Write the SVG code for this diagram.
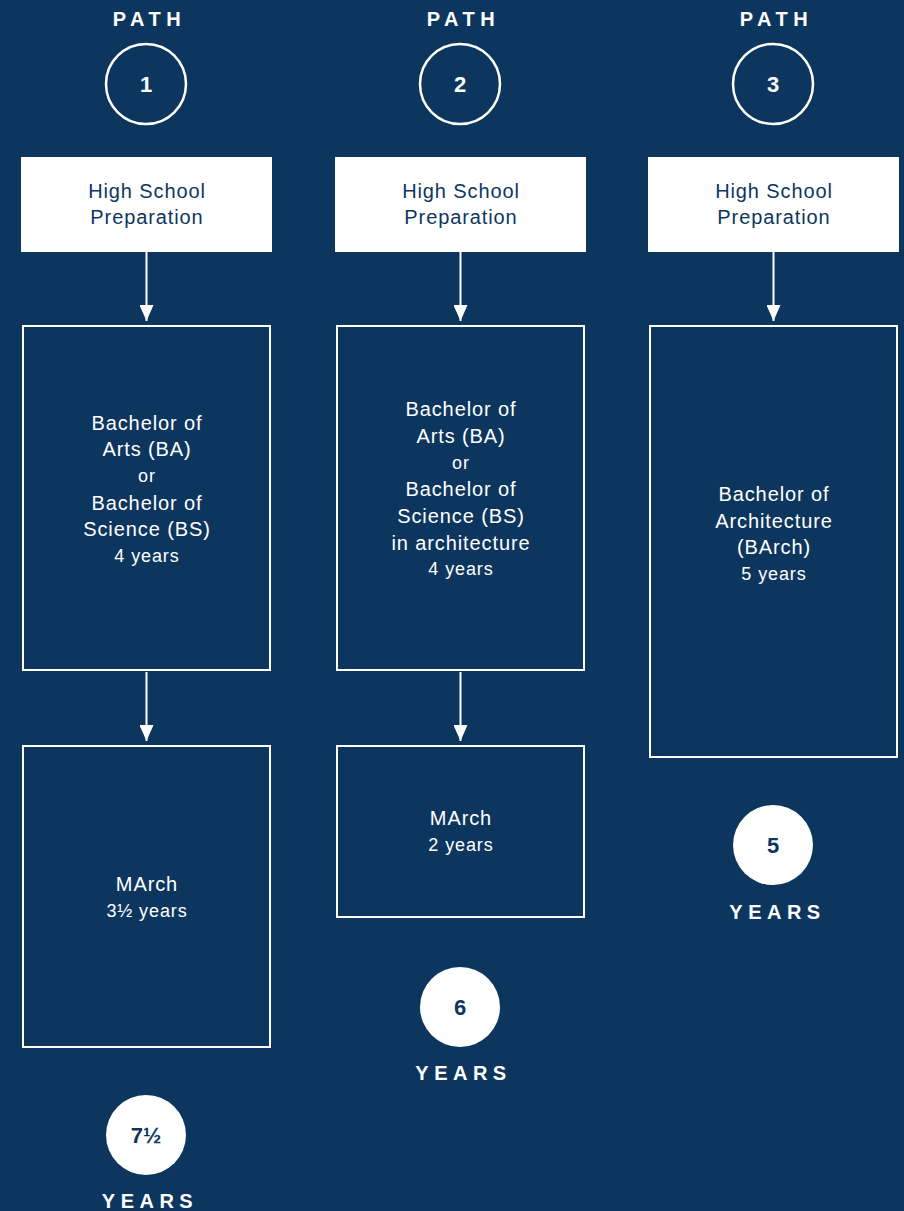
<svg xmlns="http://www.w3.org/2000/svg" width="904" height="1211" viewBox="0 0 904 1211">
<defs>
<style>
.bg{fill:#0d365f}
.lbl{font-family:"Liberation Sans",Arial,sans-serif;font-weight:bold;font-size:20px;letter-spacing:5.5px;fill:#fff;text-anchor:middle}
.ring{fill:none;stroke:#fff;stroke-width:2.5}
.num{font-family:"Liberation Sans",Arial,sans-serif;font-weight:bold;font-size:22px;fill:#fff;text-anchor:middle}
.numd{font-family:"Liberation Sans",Arial,sans-serif;font-weight:bold;font-size:22px;fill:#0d365f;text-anchor:middle}
.dot{fill:#fff}
.hs{fill:#fff}
.hst{font-family:"Liberation Sans",Arial,sans-serif;font-size:20px;letter-spacing:0.9px;fill:#0d365f;text-anchor:middle}
.box{fill:none;stroke:#fff;stroke-width:2}
.bt{font-family:"Liberation Sans",Arial,sans-serif;font-size:20px;letter-spacing:0.9px;fill:#fff;text-anchor:middle}
.bs{font-family:"Liberation Sans",Arial,sans-serif;font-size:18px;letter-spacing:0.9px;fill:#fff;text-anchor:middle}
.con{stroke:#fff;stroke-width:2;fill:none}
</style>
<marker id="ah" viewBox="0 0 16 14" refX="16" refY="7" markerWidth="16" markerHeight="14" markerUnits="userSpaceOnUse" orient="auto">
<path d="M0,0 L16,7 L0,14 Z" fill="#fff"/>
</marker>
</defs>
<rect class="bg" x="0" y="0" width="904" height="1211"/>

<g id="path1-header">
<text class="lbl" x="149.5" y="26">PATH</text>
<circle class="ring" cx="146" cy="84" r="40"/>
<text class="num" x="146" y="92">1</text>
</g>
<g id="path2-header">
<text class="lbl" x="463.5" y="26">PATH</text>
<circle class="ring" cx="460" cy="84" r="40"/>
<text class="num" x="460" y="92">2</text>
</g>
<g id="path3-header">
<text class="lbl" x="776.5" y="26">PATH</text>
<circle class="ring" cx="773" cy="84" r="40"/>
<text class="num" x="773" y="92">3</text>
</g>

<g id="hs1">
<rect class="hs" x="21" y="157" width="251" height="95"/>
<text class="hst" x="147" y="198">High School</text>
<text class="hst" x="147" y="224">Preparation</text>
</g>
<g id="hs2">
<rect class="hs" x="335" y="157" width="251" height="95"/>
<text class="hst" x="461" y="198">High School</text>
<text class="hst" x="461" y="224">Preparation</text>
</g>
<g id="hs3">
<rect class="hs" x="648" y="157" width="251" height="95"/>
<text class="hst" x="774" y="198">High School</text>
<text class="hst" x="774" y="224">Preparation</text>
</g>

<g id="ba1">
<rect class="box" x="23" y="326" width="247" height="344"/>
<text class="bt" x="147" y="430">Bachelor of</text>
<text class="bt" x="147" y="456">Arts (BA)</text>
<text class="bs" x="147" y="482">or</text>
<text class="bt" x="147" y="510">Bachelor of</text>
<text class="bt" x="147" y="536">Science (BS)</text>
<text class="bs" x="147" y="562">4 years</text>
</g>
<g id="ba2">
<rect class="box" x="337" y="326" width="247" height="344"/>
<text class="bt" x="461" y="416">Bachelor of</text>
<text class="bt" x="461" y="443">Arts (BA)</text>
<text class="bs" x="461" y="469">or</text>
<text class="bt" x="461" y="496">Bachelor of</text>
<text class="bt" x="461" y="523">Science (BS)</text>
<text class="bt" x="461" y="550">in architecture</text>
<text class="bs" x="461" y="575">4 years</text>
</g>
<g id="barch3">
<rect class="box" x="650" y="326" width="247" height="431"/>
<text class="bt" x="774" y="501">Bachelor of</text>
<text class="bt" x="774" y="528">Architecture</text>
<text class="bt" x="774" y="554">(BArch)</text>
<text class="bs" x="774" y="580">5 years</text>
</g>

<g id="march1">
<rect class="box" x="23" y="746" width="247" height="301"/>
<text class="bt" x="147" y="891">MArch</text>
<text class="bs" x="147" y="917">3½ years</text>
</g>
<g id="march2">
<rect class="box" x="337" y="746" width="247" height="171"/>
<text class="bt" x="461" y="825">MArch</text>
<text class="bs" x="461" y="851">2 years</text>
</g>

<g id="total1">
<circle class="dot" cx="146" cy="1135" r="40"/>
<text class="numd" x="146" y="1143">7½</text>
<text class="lbl" x="150" y="1208">YEARS</text>
</g>
<g id="total2">
<circle class="dot" cx="460" cy="1007" r="40"/>
<text class="numd" x="460" y="1015">6</text>
<text class="lbl" x="463.5" y="1080">YEARS</text>
</g>
<g id="total3">
<circle class="dot" cx="773" cy="845" r="40"/>
<text class="numd" x="773" y="853">5</text>
<text class="lbl" x="777.5" y="919">YEARS</text>
</g>

<g id="connectors">
<line class="con" x1="146.5" y1="252" x2="146.5" y2="321" marker-end="url(#ah)"/>
<line class="con" x1="460.5" y1="252" x2="460.5" y2="321" marker-end="url(#ah)"/>
<line class="con" x1="773.5" y1="252" x2="773.5" y2="321" marker-end="url(#ah)"/>
<line class="con" x1="146.5" y1="672" x2="146.5" y2="741" marker-end="url(#ah)"/>
<line class="con" x1="460.5" y1="672" x2="460.5" y2="741" marker-end="url(#ah)"/>
</g>
</svg>
